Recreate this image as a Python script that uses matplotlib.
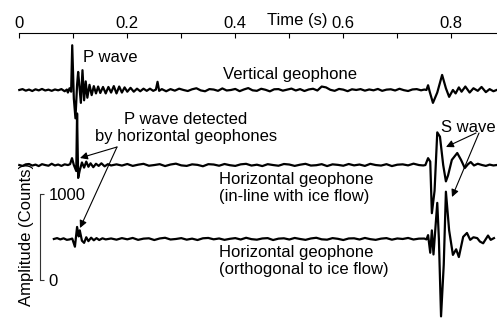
import numpy as np
import matplotlib
matplotlib.use("Agg")
from matplotlib import pyplot as plt

plt.rcParams['font.family'] = ['Liberation Sans', 'DejaVu Sans']

# time axis (s) and amplitude scale bar (counts)
time_major = [0, 0.2, 0.4, 0.6, 0.8]
time_minor = [0.1, 0.3, 0.5, 0.7]
scale_ticks = [0, 1000]

# ---- vertical geophone ----
vert_pre_a = [0, 10, -8, 5, -12, 8, -5, 12, -6, 4, -10, 6, -4, 10, -15]
vert_evt_t = [0.088, 0.090, 0.093, 0.096, 0.098, 0.101, 0.104, 0.107, 0.109, 0.112,
              0.114, 0.117, 0.120, 0.123, 0.126, 0.130, 0.134, 0.138, 0.142, 0.146,
              0.150, 0.155, 0.160, 0.165, 0.170, 0.175, 0.180, 0.185, 0.190, 0.195,
              0.200, 0.206, 0.212, 0.218, 0.224, 0.230, 0.236, 0.242, 0.248, 0.253,
              0.256, 0.259, 0.264, 0.272]
vert_evt_a = [5, -30, 20, -20, 520, -100, -330, 60, 210, 0,
              -150, 230, -120, 100, -90, 60, -60, 45, -40, 40,
              -35, 35, -40, 35, -30, 45, -40, 40, -30, 30,
              -20, 25, -20, 15, -15, 15, -10, 15, -10, 5,
              95, -10, 10, -15]
vert_mid_a = [10, -8, 15, 0, -12, 8, 20, -5, -15, 10,
              5, -10, 18, -6, 0, 12, -14, 6, 22, -4,
              -10, 14, 2, -16, 8, 10, -8, 4, 16, -6,
              10, -12, 6, 14, -6, 40, 30, 2, -10, 12,
              4, -14, 8, 0, 10, -8, 6, -4, 12, -10,
              4, 8, -6, 14, -2, -12, 6, 10, -4]
vert_s_t = [0.750, 0.754, 0.757, 0.760, 0.766, 0.774, 0.783, 0.790, 0.796, 0.803,
            0.808, 0.814, 0.819, 0.826, 0.834, 0.841, 0.849, 0.856, 0.864, 0.871,
            0.878, 0.884]
vert_s_a = [5, 0, 55, -20, -150, -30, 175, 20, -80, 0,
            -40, 30, -20, 40, -30, 20, -10, 35, -25, 10,
            -15, 0]

# ---- horizontal geophone, in-line with ice flow ----
inl_pre_a = [0, -10, 8, 12, -6, 5, -12, 10, 0, -8, 15, -5, 6, -10, 8, 0]
inl_evt_t = [0.094, 0.0976, 0.101, 0.1055, 0.107, 0.109, 0.112, 0.116, 0.120, 0.124,
             0.128, 0.132, 0.137, 0.142, 0.147, 0.152, 0.158, 0.164, 0.170]
inl_evt_a = [10, 80, 0, -70, 600, -150, -60, 30, -30, 40,
             -20, 20, -25, 15, -10, 20, -15, 10, -5]
inl_mid_a = [8, -6, 12, -10, 4, 14, -8, 0, 10, -12,
             6, 16, -4, -10, 8, 2, -14, 10, 6, -8,
             12, -2, -10, 8, 14, -6, 4, -12, 10, 0,
             -8, 12, 6, -10, 4, 14, -6, -2, 10, -12,
             8, 2, -8, 12, -4, 6, -10, 14, 0, -6,
             10, -12, 4, 8, -4, 16, 0]
inl_s_t = [0.748, 0.752, 0.757, 0.761, 0.764, 0.769, 0.774, 0.779, 0.785, 0.790,
           0.794, 0.801, 0.811, 0.818, 0.825, 0.831, 0.836, 0.842, 0.849, 0.857,
           0.864, 0.871, 0.878, 0.884]
inl_s_a = [-5, 0, 80, 40, -560, -300, 380, 330, 0, -190,
           -120, 60, 140, 60, -35, 10, 35, -5, 15, 0,
           -10, 5, -5, 0]

# ---- horizontal geophone, orthogonal to ice flow ----
orth_pre_t = [0.064, 0.070, 0.076, 0.082, 0.088, 0.093, 0.098]
orth_pre_a = [0, 10, -5, 8, -10, -5, 5]
orth_evt_t = [0.103, 0.107, 0.110, 0.112, 0.116, 0.120, 0.124, 0.128, 0.133, 0.138,
              0.143, 0.148, 0.154, 0.160]
orth_evt_a = [-90, 140, 30, 100, -20, -45, 20, -25, 15, -15,
              10, -12, 8, -5]
orth_mid_a = [6, -8, 10, -4, 12, -10, 4, 8, -12, 6,
              14, -6, 0, 10, -8, 4, -12, 8, 12, -4,
              6, -10, 2, 10, -6, 14, -2, -8, 6, 10,
              -12, 4, 8, -6, 12, 0, -10, 6, 14, -4,
              -8, 10, 2, -12, 6, 8, -6, 12, -2, -10,
              4, 10, -8, 6, 0, 12, -6, 4]
orth_s_t = [0.750, 0.754, 0.757, 0.761, 0.764, 0.767, 0.774, 0.777, 0.781, 0.786,
            0.790, 0.796, 0.803, 0.809, 0.814, 0.822, 0.829, 0.835, 0.841, 0.848,
            0.853, 0.859, 0.864, 0.868, 0.873, 0.879]
orth_s_a = [5, -5, 45, -160, 100, -180, 420, 0, -900, -300,
            550, 100, -185, -120, -210, 25, 70, -10, 20, 10,
            -30, -50, 0, 40, -10, 10]

# build the three traces (time, amplitude)
vert_t = np.concatenate([np.arange(len(vert_pre_a)) * 0.006, vert_evt_t,
                         0.28 + np.arange(len(vert_mid_a)) * 0.008, vert_s_t])
vert_a = np.concatenate([vert_pre_a, vert_evt_a, vert_mid_a, vert_s_a])
inl_t = np.concatenate([np.arange(len(inl_pre_a)) * 0.006, inl_evt_t,
                        0.18 + np.arange(len(inl_mid_a)) * 0.010, inl_s_t])
inl_a = np.concatenate([inl_pre_a, inl_evt_a, inl_mid_a, inl_s_a])
orth_t = np.concatenate([orth_pre_t, orth_evt_t,
                         0.17 + np.arange(len(orth_mid_a)) * 0.010, orth_s_t])
orth_a = np.concatenate([orth_pre_a, orth_evt_a, orth_mid_a, orth_s_a])

# vertical offsets of the traces (counts)
off_vert, off_inl, off_orth = 2210, 1337, 477

W, H = 497, 320
fig = plt.figure(figsize=(W / 100, H / 100), dpi=100)
ax = fig.add_axes([0, 0, 1, 1])
ax.patch.set_alpha(0)

cpp = 11.63  # counts per pixel
ax.set_xlim(-19.3 / 540, (W - 19.3) / 540)
ax.set_ylim(-(H - 280) * cpp, 280 * cpp)

lw = 1.6
ax.plot(vert_t, vert_a + off_vert, color='black', lw=lw)
ax.plot(inl_t, inl_a + off_inl, color='black', lw=lw)
ax.plot(orth_t, orth_a + off_orth, color='black', lw=lw)

# time axis along the top
for s in ['left', 'bottom']:
    ax.spines[s].set_visible(False)
ax.spines['top'].set_position(('data', (280 - 33.3) * cpp))
ax.spines['top'].set_bounds(0, (W - 19.3) / 540)
ax.spines['top'].set_linewidth(0.8)
ax.xaxis.tick_top()
ax.set_xticks(time_major)
ax.set_xticklabels(['0', '0.2', '0.4', '0.6', '0.8'])
ax.set_xticks(time_minor, minor=True)
ax.tick_params(axis='x', which='both', direction='in', length=3.6, width=0.8,
               pad=1.5, labelsize=12)

# amplitude scale bar
ax.spines['right'].set_position(('data', (40 - 19.3) / 540))
ax.spines['right'].set_bounds(0, 1000)
ax.spines['right'].set_linewidth(0.8)
ax.spines['right'].set_color('#333333')
ax.yaxis.tick_right()
ax.set_yticks(scale_ticks)
ax.set_yticklabels(['0', '1000'])
ax.tick_params(axis='y', direction='out', length=3, width=0.8, pad=3,
               labelsize=12, color='#333333')


def fp(x, y):
    return x / W, 1 - y / H


fs = 12
fig.text(*fp(297, 20), 'Time (s)', ha='center', va='center', fontsize=fs)
fig.text(*fp(83, 58), 'P wave', ha='left', va='center', fontsize=fs)
fig.text(*fp(223, 75), 'Vertical geophone', ha='left', va='center', fontsize=fs)
fig.text(*fp(186, 128), 'P wave detected\nby horizontal geophones', ha='center',
         va='center', fontsize=fs, multialignment='center', linespacing=1.1)
fig.text(*fp(219, 188), 'Horizontal geophone\n(in-line with ice flow)', ha='left',
         va='center', fontsize=fs, linespacing=1.1)
fig.text(*fp(219, 261), 'Horizontal geophone\n(orthogonal to ice flow)', ha='left',
         va='center', fontsize=fs, linespacing=1.1)
fig.text(*fp(441, 127), 'S wave', ha='left', va='center', fontsize=fs)
fig.text(*fp(27, 234), 'Amplitude (Counts)', ha='center', va='center',
         rotation=90, fontsize=fs)

arrow = dict(arrowstyle='-|>', color='black', lw=0.8, mutation_scale=11,
             shrinkA=0, shrinkB=0)
ax.annotate('', xy=fp(80, 158), xytext=fp(117, 147), xycoords='figure fraction',
            textcoords='figure fraction', arrowprops=arrow)
ax.annotate('', xy=fp(80, 228), xytext=fp(117, 147), xycoords='figure fraction',
            textcoords='figure fraction', arrowprops=arrow)
ax.annotate('', xy=fp(446, 147), xytext=fp(476, 133), xycoords='figure fraction',
            textcoords='figure fraction', arrowprops=arrow)
ax.annotate('', xy=fp(452, 197), xytext=fp(479, 133), xycoords='figure fraction',
            textcoords='figure fraction', arrowprops=arrow)

fig.savefig('out.png', dpi=100, facecolor='white')
